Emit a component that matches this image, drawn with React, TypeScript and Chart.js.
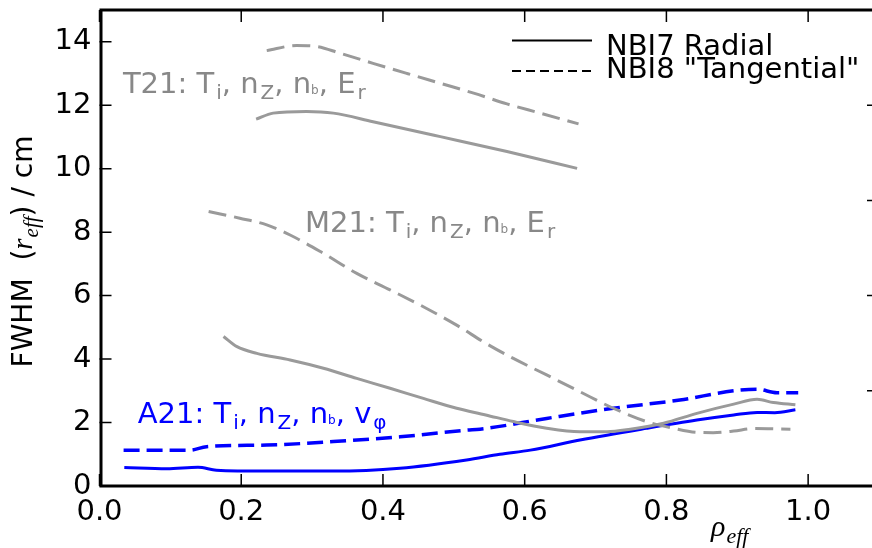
import React, { useEffect, useRef } from "react";
import { Chart, registerables } from "chart.js";
Chart.register(...registerables);

// ---- Data ----
const xTicks = [0, 0.2, 0.4, 0.6, 0.8, 1.0];
const yTicks = [0, 2, 4, 6, 8, 10, 12, 14];
const yTicksRight = [3, 6, 9, 12];

const t21RadialX = [0.221, 0.245, 0.292, 0.33, 0.386, 0.481, 0.575, 0.674];
const t21RadialY = [11.56, 11.75, 11.8, 11.75, 11.48, 11.01, 10.54, 10.01];

const t21TangX = [0.236, 0.278, 0.307, 0.339, 0.386, 0.434, 0.481, 0.528, 0.575, 0.622, 0.676];
const t21TangY = [13.72, 13.88, 13.85, 13.64, 13.32, 13.0, 12.69, 12.38, 12.04, 11.75, 11.41];

const m21RadialX = [0.175, 0.194, 0.222, 0.269, 0.316, 0.363, 0.41, 0.457, 0.504, 0.545, 0.584, 0.631, 0.678, 0.716, 0.749, 0.796, 0.843, 0.895, 0.928, 0.951, 0.982];
const m21RadialY = [4.71, 4.39, 4.18, 3.97, 3.71, 3.39, 3.08, 2.76, 2.45, 2.24, 2.03, 1.82, 1.71, 1.71, 1.79, 1.98, 2.29, 2.58, 2.73, 2.63, 2.56];

const m21TangX = [0.154, 0.198, 0.236, 0.269, 0.316, 0.363, 0.41, 0.457, 0.504, 0.545, 0.584, 0.631, 0.678, 0.725, 0.772, 0.81, 0.843, 0.866, 0.895, 0.923, 0.975];
const m21TangY = [8.65, 8.44, 8.23, 7.91, 7.33, 6.7, 6.18, 5.65, 5.07, 4.5, 4.02, 3.5, 2.97, 2.45, 2.03, 1.82, 1.69, 1.68, 1.73, 1.81, 1.79];

const a21RadialX = [0.035, 0.095, 0.139, 0.165, 0.236, 0.33, 0.424, 0.518, 0.565, 0.608, 0.678, 0.772, 0.843, 0.895, 0.928, 0.953, 0.982];
const a21RadialY = [0.58, 0.54, 0.59, 0.5, 0.47, 0.47, 0.56, 0.82, 1.0, 1.13, 1.45, 1.82, 2.08, 2.24, 2.32, 2.31, 2.4];

const a21TangX = [0.034, 0.128, 0.151, 0.236, 0.33, 0.424, 0.518, 0.537, 0.631, 0.725, 0.819, 0.895, 0.928, 0.956, 0.986];
const a21TangY = [1.13, 1.13, 1.24, 1.29, 1.4, 1.55, 1.76, 1.79, 2.13, 2.45, 2.71, 3.0, 3.05, 2.94, 2.94];

const legendLabels = ["NBI7 Radial", 'NBI8 "Tangential"'];

// rich annotation texts: [text, style]
const t21Label: [string, string][] = [["T21: T", "n"], ["i", "sub"], [", n", "n"], ["Z", "sub"], [", n", "n"], ["b", "tiny"], [", E", "n"], ["r", "sub"]];
const m21Label: [string, string][] = [["M21: T", "n"], ["i", "sub"], [", n", "n"], ["Z", "sub"], [", n", "n"], ["b", "tiny"], [", E", "n"], ["r", "sub"]];
const a21Label: [string, string][] = [["A21: T", "n"], ["i", "sub"], [", n", "n"], ["Z", "sub"], [", n", "n"], ["b", "tiny"], [", v", "n"], ["φ", "sub"]];
const annotations = [
  { parts: t21Label, x: 0.033, y: 12.38, color: "#888888" },
  { parts: m21Label, x: 0.29, y: 8.0, color: "#888888" },
  { parts: a21Label, x: 0.054, y: 2.0, color: "#0000ff" },
];

const GRAY = "#9a9a9a";
const BLUE = "#0000ff";
const SANS = "'DejaVu Sans', sans-serif";
const MATH = "'Liberation Serif', serif";

function zip(xs: number[], ys: number[]) {
  return xs.map((x, i) => ({ x, y: ys[i] }));
}

function drawRich(ctx: CanvasRenderingContext2D, parts: [string, string][], x: number, y: number, color: string) {
  let cx = x;
  ctx.fillStyle = color;
  ctx.textBaseline = "alphabetic";
  ctx.textAlign = "left";
  for (const [t, s] of parts) {
    let size = 29, dy = 0;
    if (s === "sub") { size = 20; dy = 6; }
    if (s === "tiny") { size = 12; dy = 1; }
    ctx.font = `${size}px ${SANS}`;
    if (s === "sub") cx += 2;
    ctx.fillText(t, cx, y + dy);
    cx += ctx.measureText(t).width;
  }
}

const framePlugin = {
  id: "frame",
  afterDatasetsDraw(chart: any) {
    const { ctx, chartArea: a, scales } = chart;
    const xs = scales.x, ys = scales.y;
    ctx.save();
    ctx.strokeStyle = "#000";
    // ticks
    ctx.lineWidth = 1.5;
    ctx.beginPath();
    for (const v of xTicks) {
      const px = xs.getPixelForValue(v);
      ctx.moveTo(px, a.bottom); ctx.lineTo(px, a.bottom - 12);
      ctx.moveTo(px, a.top); ctx.lineTo(px, a.top + 12);
    }
    for (const v of yTicks) {
      const py = ys.getPixelForValue(v);
      ctx.moveTo(a.left, py); ctx.lineTo(a.left + 12, py);
    }
    for (const v of yTicksRight) {
      const py = ys.getPixelForValue(v);
      ctx.moveTo(a.right, py); ctx.lineTo(a.right - 12, py);
    }
    ctx.stroke();
    // spines
    ctx.lineWidth = 3;
    ctx.strokeRect(a.left + 1.5, a.top, a.right - a.left - 1.5, a.bottom - a.top);

    // annotations
    for (const an of annotations) {
      drawRich(ctx, an.parts, xs.getPixelForValue(an.x), ys.getPixelForValue(an.y), an.color);
    }

    // legend
    const lx0 = a.right - 367, lx1 = a.right - 287, tx = a.right - 273;
    const rows = [a.top + 30.5, a.top + 61];
    ctx.lineWidth = 2;
    legendLabels.forEach((lab, i) => {
      ctx.setLineDash(i === 0 ? [] : [9, 5]);
      ctx.beginPath();
      ctx.moveTo(lx0, rows[i]); ctx.lineTo(lx1, rows[i]);
      ctx.stroke();
      ctx.setLineDash([]);
      ctx.fillStyle = "#000";
      ctx.font = `29px ${SANS}`;
      ctx.textBaseline = "alphabetic";
      ctx.textAlign = "left";
      ctx.fillText(lab, tx, rows[i] + (i === 0 ? 14.5 : 7));
    });

    // y-axis title (rotated)
    ctx.save();
    ctx.translate(32, (a.top + a.bottom) / 2 + 4);
    ctx.rotate(-Math.PI / 2);
    const ypieces: [string, string][] = [["FWHM  (", "s"], ["r", "m"], ["eff", "ms"], [") / cm", "s"]];
    const fontOf = (s: string) => s === "s" ? `28px ${SANS}` : s === "m" ? `italic 29px ${MATH}` : `italic 21px ${MATH}`;
    let total = 0;
    for (const [t, s] of ypieces) { ctx.font = fontOf(s); total += ctx.measureText(t).width; }
    let cx = -total / 2;
    ctx.fillStyle = "#000";
    for (const [t, s] of ypieces) {
      ctx.font = fontOf(s);
      ctx.fillText(t, cx, s === "ms" ? 6 : 0);
      cx += ctx.measureText(t).width + (s === "m" ? 1 : 0);
    }
    ctx.restore();

    // x-axis title
    ctx.fillStyle = "#000";
    ctx.font = `italic 30px ${MATH}`;
    ctx.fillText("ρ", 711, 536);
    const rw = ctx.measureText("ρ").width;
    ctx.font = `italic 22px ${MATH}`;
    ctx.fillText("eff", 711 + rw + 1, 543);
    ctx.restore();
  },
};

export default function App() {
  const ref = useRef<HTMLCanvasElement>(null);
  useEffect(() => {
    if (!ref.current) return;
    const mk = (label: string, xs: number[], ys: number[], color: string, width: number, dash: number[]) => ({
      label,
      data: zip(xs, ys),
      borderColor: color,
      borderWidth: width,
      borderDash: dash,
      pointRadius: 0,
      cubicInterpolationMode: "monotone",
      fill: false,
      borderCapStyle: "butt",
    });
    const chart = new Chart(ref.current, {
      type: "line",
      data: {
        datasets: [
          mk("T21 radial", t21RadialX, t21RadialY, GRAY, 3, []),
          mk("T21 tangential", t21TangX, t21TangY, GRAY, 3, [18, 8]),
          mk("M21 radial", m21RadialX, m21RadialY, GRAY, 3, []),
          mk("M21 tangential", m21TangX, m21TangY, GRAY, 3, [18, 8]),
          mk("A21 radial", a21RadialX, a21RadialY, BLUE, 3, []),
          mk("A21 tangential", a21TangX, a21TangY, BLUE, 3.5, [16, 7]),
        ] as any,
      },
      options: {
        animation: false,
        responsive: false,
        maintainAspectRatio: false,
        layout: { padding: { top: 10, right: 11, left: 0, bottom: 0 } },
        plugins: { legend: { display: false }, tooltip: { enabled: false } },
        scales: {
          x: {
            type: "linear",
            min: 0,
            max: 1.1,
            afterBuildTicks: (s: any) => { s.ticks = xTicks.map((v) => ({ value: v })); },
            afterFit: (s: any) => { s.height = 62; s.paddingLeft = 0; s.paddingRight = 0; },
            grid: { display: false, drawTicks: false },
            border: { display: false },
            ticks: {
              color: "#000",
              font: { family: SANS, size: 29 },
              padding: 9,
              maxRotation: 0,
              autoSkip: false,
              callback: (v: any) => Number(v).toFixed(1),
            },
          },
          y: {
            type: "linear",
            min: 0,
            max: 15,
            afterBuildTicks: (s: any) => { s.ticks = yTicks.map((v) => ({ value: v })); },
            afterFit: (s: any) => { s.width = 99.5; s.paddingTop = 0; s.paddingBottom = 0; },
            grid: { display: false, drawTicks: false },
            border: { display: false },
            ticks: {
              color: "#000",
              font: { family: SANS, size: 29 },
              padding: 8,
              autoSkip: false,
              callback: (v: any) => String(v),
            },
          },
        },
      } as any,
      plugins: [framePlugin],
    });
    return () => chart.destroy();
  }, []);
  return (
    <div style={{ position: "fixed", left: 0, top: 0, width: 872, height: 548, overflow: "hidden", background: "#fff" }}>
      <canvas ref={ref} width={890} height={548} style={{ width: 890, height: 548, display: "block" }} />
    </div>
  );
}
